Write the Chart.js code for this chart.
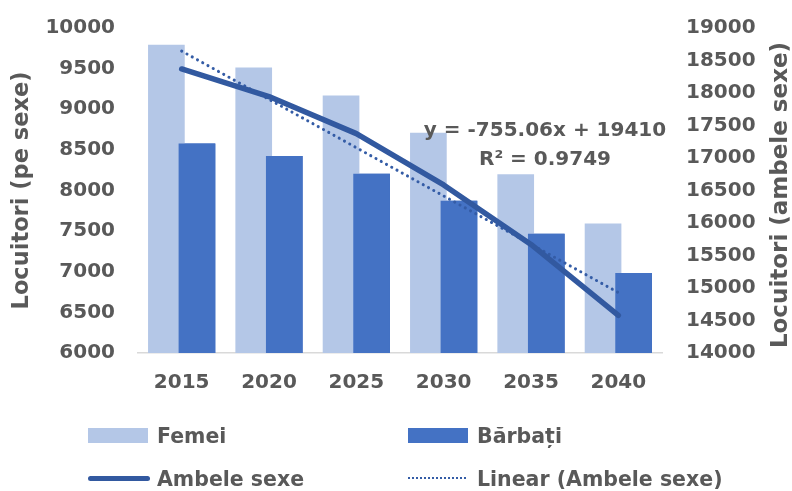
<!DOCTYPE html>
<html>
<head>
<meta charset="utf-8">
<script src="https://cdn.jsdelivr.net/npm/chart.js@4.4.0/dist/chart.umd.min.js"></script>
<style>
  body { margin: 0; background: #fff; }
  #wrap { position: relative; width: 792px; height: 491px; overflow: hidden; }
  #wrap canvas { position: absolute; left: 0; top: 0; }
  .lg-text { position: absolute; font: bold 20.5px 'DejaVu Sans', sans-serif; color: #595959; line-height: 24px; white-space: nowrap; }
  .lg-sw { position: absolute; }
</style>
</head>
<body>
<div id="wrap">
  <canvas id="chart" width="792" height="491"></canvas>
</div>
<script>
// --- data ---
const years = ['2015', '2020', '2025', '2030', '2035', '2040'];
const femei = [9795, 9515, 9170, 8712, 8200, 7595];
const barbati = [8577, 8425, 8205, 7873, 7468, 6985];
const ambeleSexe = [18370, 17945, 17375, 16585, 15670, 14580];
// linear trendline: only its two ends are read, the line spans the gap
const trendAmbele = [18645, null, null, null, null, 14930];

const leftTicks = { min: 6000, max: 10000, step: 500 };
const rightTicks = { min: 14000, max: 19000, step: 500 };

const equationText = 'y = -755.06x + 19410';
const r2Text = 'R² = 0.9749';

const TEXT = '#595959';
const FONT = "'DejaVu Sans', sans-serif";
const C_FEMEI = '#b4c7e7';
const C_BARBATI = '#4472c4';
const C_LINE = '#3259a0';
const C_TREND = '#345ca6';

// Bărbați has to sit over Femei where the bars overlap, and the
// equation + right axis title (reads bottom-to-top) are drawn by hand
const extras = {
    id: 'extras',
    afterDatasetDraw(chart, args) {
        if (args.index !== 0) return;
        const a = chart.chartArea;
        const ctx = chart.ctx;
        ctx.save();
        ctx.beginPath();
        ctx.rect(a.left, a.top, a.right - a.left, a.bottom - a.top);
        ctx.clip();
        chart.getDatasetMeta(1).controller.draw();
        ctx.restore();
    },
    afterDatasetsDraw(chart) {
        const ctx = chart.ctx;
        ctx.save();
        ctx.fillStyle = TEXT;
        ctx.textAlign = 'center';
        ctx.textBaseline = 'middle';
        ctx.font = 'bold 20px ' + FONT;
        ctx.fillText(equationText, 545, 131);
        ctx.fillText(r2Text, 545, 160);
        ctx.translate(781, 195);
        ctx.rotate(-Math.PI / 2);
        ctx.font = 'bold 23px ' + FONT;
        ctx.fillText('Locuitori (ambele sexe)', 0, 0);
        ctx.restore();
    }
};

const tickFont = { family: FONT, size: 20, weight: 'bold' };

// y axes: fixed width, and no extra top/bottom room for the end labels
function fitY(width) {
    return scale => {
        scale.width = width;
        scale.paddingTop = 0;
        scale.paddingBottom = 0;
    };
}

new Chart(document.getElementById('chart'), {
    type: 'bar',
    data: {
        labels: years,
        datasets: [
            { label: 'Femei', data: femei, backgroundColor: C_FEMEI, yAxisID: 'y', order: 1 },
            { label: 'Bărbați', data: barbati, backgroundColor: C_BARBATI, yAxisID: 'y', order: 1 },
            {
                type: 'line', label: 'Ambele sexe', data: ambeleSexe, yAxisID: 'y2', order: 0,
                borderColor: C_LINE, borderWidth: 5.5, pointRadius: 0, tension: 0,
                borderCapStyle: 'round', borderJoinStyle: 'round'
            },
            {
                type: 'line', label: 'Linear (Ambele sexe)', data: trendAmbele, yAxisID: 'y2', order: 0,
                borderColor: C_TREND, borderWidth: 3, borderDash: [0.1, 5.9], borderCapStyle: 'round',
                pointRadius: 0, spanGaps: true
            }
        ]
    },
    options: {
        responsive: false,
        animation: false,
        layout: { padding: { top: 28, left: 0, right: 0, bottom: 0 } },
        datasets: { bar: { categoryPercentage: 0.7, barPercentage: 1.2 } },
        plugins: { legend: { display: false }, tooltip: { enabled: false } },
        scales: {
            x: {
                grid: { display: false, drawTicks: false },
                border: { display: true, color: '#d9d9d9', width: 1.5 },
                ticks: { color: TEXT, font: tickFont, padding: 18 },
                afterFit(scale) { scale.height = 138; }
            },
            y: {
                position: 'left',
                min: leftTicks.min, max: leftTicks.max,
                grid: { display: false, drawTicks: false },
                border: { display: false },
                ticks: { stepSize: leftTicks.step, color: TEXT, font: tickFont, padding: 23, callback: v => String(v) },
                title: {
                    display: true, text: 'Locuitori (pe sexe)', color: TEXT,
                    font: { family: FONT, size: 22.5, weight: 'bold' }, padding: { top: 9, bottom: 0 }
                },
                afterFit: fitY(138)
            },
            y2: {
                position: 'right',
                min: rightTicks.min, max: rightTicks.max,
                grid: { display: false, drawTicks: false },
                border: { display: false },
                ticks: { stepSize: rightTicks.step, color: TEXT, font: tickFont, padding: 24, callback: v => String(v) },
                afterFit: fitY(130)
            }
        }
    },
    plugins: [extras]
});

// legend laid out as in the reference: two columns, two rows
const legendItems = [
    { text: 'Femei', kind: 'box', color: C_FEMEI, left: 88, top: 428 },
    { text: 'Bărbați', kind: 'box', color: C_BARBATI, left: 408, top: 428 },
    { text: 'Ambele sexe', kind: 'line', color: C_LINE, left: 88, top: 471 },
    { text: 'Linear (Ambele sexe)', kind: 'dots', color: C_TREND, left: 408, top: 471 }
];
const wrap = document.getElementById('wrap');
legendItems.forEach(item => {
    const sw = document.createElement('div');
    sw.className = 'lg-sw';
    if (item.kind === 'box') {
        sw.style.cssText = `left:${item.left}px;top:${item.top}px;width:60px;height:15px;background:${item.color}`;
    } else if (item.kind === 'line') {
        sw.style.cssText = `left:${item.left}px;top:${item.top + 5}px;width:62px;height:5px;border-radius:3px;background:${item.color}`;
    } else {
        sw.style.cssText = `left:${item.left}px;top:${item.top + 6}px;width:58px;height:0;border-top:2.5px dotted ${item.color}`;
    }
    wrap.appendChild(sw);
    const tx = document.createElement('div');
    tx.className = 'lg-text';
    tx.textContent = item.text;
    tx.style.left = (item.left + 69) + 'px';
    tx.style.top = (item.top - 4) + 'px';
    wrap.appendChild(tx);
});
</script>
</body>
</html>
